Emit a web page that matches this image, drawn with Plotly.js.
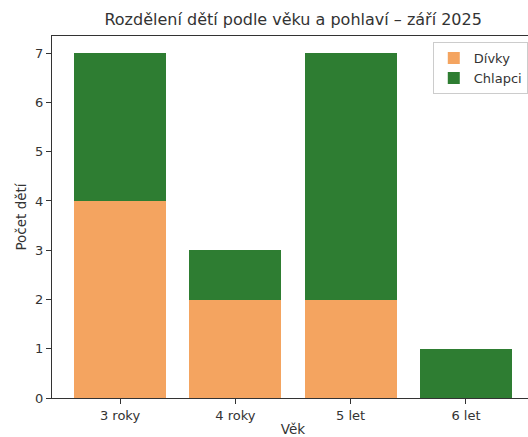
<!DOCTYPE html>
<html><head><meta charset="utf-8">
<script src="https://cdn.plot.ly/plotly-3.0.1.min.js"></script>
<style>html,body{margin:0;padding:0;background:#fff;overflow:hidden;width:528px}</style>
</head><body><div id="c" style="width:534px;height:437px"></div>
<script>
const categories = ["3 roky", "4 roky", "5 let", "6 let"];
const divky = [4, 2, 2, 0];
const chlapci = [3, 1, 5, 1];
const seriesNames = ["Dívky", "Chlapci"];

const data = [
  {type:'bar', x:categories, y:divky, name:seriesNames[0], marker:{color:'#F4A460'}},
  {type:'bar', x:categories, y:chlapci, name:seriesNames[1], marker:{color:'#2E7D32'}}
];
const axisCommon = {showline:true, linecolor:'#333', linewidth:1, ticks:'outside', ticklen:5, tickcolor:'#333', showgrid:false, zeroline:false, tickfont:{size:13, color:'#333'}};
const layout = {
  width:534, height:437,
  margin:{l:52, r:0, t:36, b:39},
  font:{family:'DejaVu Sans', color:'#333'},
  barmode:'stack', bargap:0.2,
  paper_bgcolor:'#fff', plot_bgcolor:'#fff',
  title:{text:'Rozdělení dětí podle věku a pohlaví – září 2025', font:{size:16, color:'#333'}, x:0.549, xanchor:'center', y:0.955, yanchor:'middle'},
  xaxis:Object.assign({}, axisCommon, {mirror:true, type:'category', range:[-0.59, 3.59], title:{text:'Věk', font:{size:13.5}, standoff:12}}),
  yaxis:Object.assign({}, axisCommon, {mirror:false, range:[0, 7.35], dtick:1, title:{text:'Počet dětí', font:{size:13.5}, standoff:5}}),
  legend:{x:0.790, xanchor:'left', y:0.983, yanchor:'top', bordercolor:'#ccc', borderwidth:1, bgcolor:'rgba(255,255,255,0.8)', traceorder:'normal', font:{size:13}}
};
Plotly.newPlot('c', data, layout, {displayModeBar:false});
</script></body></html>
